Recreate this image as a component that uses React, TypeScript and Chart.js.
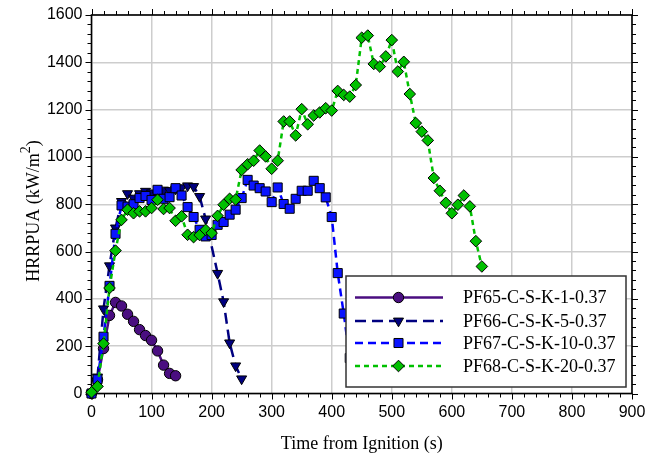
import React, { useEffect, useRef } from 'react';
import { Chart, registerables } from 'chart.js';

Chart.register(...registerables);

const SERIES_NAMES = ['PF65-C-S-K-1-0.37', 'PF66-C-S-K-5-0.37', 'PF67-C-S-K-10-0.37', 'PF68-C-S-K-20-0.37'];

const T65 = [0, 10, 20, 30, 40, 50, 60, 70, 80, 90, 100, 110, 120, 130, 140];
const V65 = [0, 58, 190, 330, 385, 370, 335, 305, 270, 245, 225, 180, 120, 85, 75];

const T66 = [0, 10, 20, 30, 40, 50, 60, 70, 80, 90, 100, 110, 120, 130, 140, 150, 160, 170, 180, 190, 210, 220, 230, 240, 250];
const V66 = [0, 70, 358, 540, 700, 812, 845, 826, 845, 855, 848, 840, 860, 858, 865, 870, 878, 875, 833, 738, 508, 388, 214, 117, 62];

const T67 = [0, 10, 20, 30, 40, 50, 60, 70, 80, 90, 100, 110, 120, 130, 140, 150, 160, 170, 180, 190, 200, 210, 220, 230, 240, 250, 260, 270, 280, 290, 300, 310, 320, 330, 340, 350, 360, 370, 380, 390, 400, 410, 420, 430];
const V67 = [0, 60, 240, 455, 675, 795, 790, 800, 826, 835, 818, 861, 823, 830, 868, 837, 788, 746, 692, 664, 670, 713, 725, 756, 777, 826, 903, 879, 868, 854, 809, 871, 801, 781, 823, 857, 857, 899, 868, 829, 746, 509, 338, 150];

const T68 = [0, 10, 20, 30, 40, 50, 60, 70, 80, 90, 100, 110, 120, 130, 140, 150, 160, 170, 180, 190, 200, 210, 220, 230, 240, 250, 260, 270, 280, 290, 300, 310, 320, 330, 340, 350, 360, 370, 380, 390, 400, 410, 420, 430, 440, 450, 460, 470, 480, 490, 500, 510, 520, 530, 540, 550, 560, 570, 580, 590, 600, 610, 620, 630, 640, 650];
const V68 = [5, 30, 211, 446, 604, 734, 777, 762, 770, 770, 784, 819, 780, 784, 730, 749, 671, 661, 670, 692, 678, 751, 798, 823, 820, 945, 969, 984, 1027, 1002, 950, 984, 1150, 1150, 1091, 1202, 1138, 1175, 1188, 1206, 1196, 1279, 1262, 1255, 1304, 1504, 1513, 1393, 1382, 1425, 1494, 1361, 1402, 1266, 1143, 1107, 1070, 911, 857, 806, 762, 798, 837, 791, 644, 537];

const X_MIN = 0, X_MAX = 900, X_STEP = 100, X_MINOR = 20;
const Y_MIN = 0, Y_MAX = 1600, Y_STEP = 200, Y_MINOR = 40;

const X_TITLE = 'Time from Ignition (s)';
const Y_TITLE_MAIN = 'HRRPUA (kW/m';
const Y_TITLE_SUP = '2';
const Y_TITLE_END = ')';

const SERIF = '"Liberation Serif", "Times New Roman", serif';
const SANS = '"Liberation Sans", Arial, sans-serif';

const STYLES = [
  { color: '#4a0e80', fill: '#4a0e80', point: 'circle', radius: 5.2, rotation: 0, dash: [] as number[] },
  { color: '#000080', fill: '#000080', point: 'triangle', radius: 5.8, rotation: 180, dash: [11, 6] },
  { color: '#0000ff', fill: '#0a14ff', point: 'rect', radius: 6.4, rotation: 0, dash: [8, 5] },
  { color: '#00c000', fill: '#00c000', point: 'rectRot', radius: 5.8, rotation: 0, dash: [5, 4] },
];

const SERIES = [[T65, V65], [T66, V66], [T67, V67], [T68, V68]];

const framePlugin = {
  id: 'frameTicks',
  beforeDatasetsDraw(chart: any) {
    const { ctx, chartArea, scales } = chart;
    const { left, top, right, bottom } = chartArea;
    const x = scales.x, y = scales.y;
    ctx.save();
    ctx.strokeStyle = '#000';
    ctx.lineWidth = 1;
    ctx.beginPath();
    for (let v = X_MIN; v <= X_MAX; v += X_MINOR) {
      const px = Math.round(x.getPixelForValue(v)) + 0.5;
      const len = v % X_STEP === 0 ? 6 : 4;
      ctx.moveTo(px, bottom); ctx.lineTo(px, bottom + len);
      ctx.moveTo(px, top); ctx.lineTo(px, top - len);
    }
    for (let v = Y_MIN; v <= Y_MAX; v += Y_MINOR) {
      const py = Math.round(y.getPixelForValue(v)) + 0.5;
      const len = v % Y_STEP === 0 ? 6 : 4;
      ctx.moveTo(left, py); ctx.lineTo(left - len, py);
      ctx.moveTo(right, py); ctx.lineTo(right + len, py);
    }
    ctx.stroke();
    ctx.lineWidth = 1.6;
    ctx.strokeRect(left, top, right - left, bottom - top);

    // y-axis title with superscript
    ctx.fillStyle = '#000';
    ctx.translate(38.5, 211);
    ctx.rotate(-Math.PI / 2);
    ctx.textBaseline = 'alphabetic';
    ctx.textAlign = 'left';
    const mainFont = '18px ' + SERIF;
    const supFont = '14px ' + SERIF;
    ctx.font = mainFont;
    const w1 = ctx.measureText(Y_TITLE_MAIN).width;
    const w3 = ctx.measureText(Y_TITLE_END).width;
    ctx.font = supFont;
    const w2 = ctx.measureText(Y_TITLE_SUP).width;
    const total = w1 + w2 + w3;
    let cx = -total / 2;
    ctx.font = mainFont;
    ctx.fillText(Y_TITLE_MAIN, cx, 0);
    cx += w1;
    ctx.font = supFont;
    ctx.fillText(Y_TITLE_SUP, cx, -9);
    cx += w2;
    ctx.font = mainFont;
    ctx.fillText(Y_TITLE_END, cx, 0);
    ctx.restore();
  },
  afterDatasetsDraw(chart: any) {
    const { ctx } = chart;
    const bx = 346, by = 276, bw = 280, bh = 111;
    ctx.save();
    ctx.fillStyle = '#fff';
    ctx.fillRect(bx, by, bw, bh);
    ctx.strokeStyle = '#333';
    ctx.lineWidth = 1.5;
    ctx.strokeRect(bx, by, bw, bh);
    const rows = [297.5, 321, 343, 366];
    SERIES_NAMES.forEach((name, i) => {
      const s = STYLES[i];
      const ry = rows[i];
      ctx.strokeStyle = s.color;
      ctx.lineWidth = 2.5;
      ctx.setLineDash(s.dash);
      ctx.beginPath();
      ctx.moveTo(355, ry);
      ctx.lineTo(443, ry);
      ctx.stroke();
      ctx.setLineDash([]);
      ctx.fillStyle = s.fill;
      ctx.strokeStyle = '#000';
      ctx.lineWidth = 1;
      ctx.beginPath();
      const r = s.radius;
      const cx = 398.5;
      if (s.point === 'circle') {
        ctx.arc(cx, ry, r, 0, Math.PI * 2);
      } else if (s.point === 'triangle') {
        ctx.moveTo(cx - r * 0.866, ry - r * 0.5);
        ctx.lineTo(cx + r * 0.866, ry - r * 0.5);
        ctx.lineTo(cx, ry + r);
        ctx.closePath();
      } else if (s.point === 'rect') {
        const h = r * Math.SQRT1_2;
        ctx.rect(cx - h, ry - h, 2 * h, 2 * h);
      } else {
        ctx.moveTo(cx - r, ry); ctx.lineTo(cx, ry - r); ctx.lineTo(cx + r, ry); ctx.lineTo(cx, ry + r);
        ctx.closePath();
      }
      ctx.fill();
      ctx.stroke();
      ctx.fillStyle = '#000';
      ctx.font = '18px ' + SERIF;
      ctx.textAlign = 'left';
      ctx.textBaseline = 'middle';
      ctx.fillText(name, 463, ry + 1);
    });
    ctx.restore();
  },
};

export default function App() {
  const ref = useRef<HTMLCanvasElement | null>(null);
  useEffect(() => {
    if (!ref.current) return;
    const datasets = SERIES.map(([ts, vs], i) => {
      const s = STYLES[i];
      return {
        label: SERIES_NAMES[i],
        data: ts.map((t, k) => ({ x: t, y: vs[k] })),
        borderColor: s.color,
        borderWidth: 2.5,
        borderDash: s.dash,
        backgroundColor: s.fill,
        pointBackgroundColor: s.fill,
        pointBorderColor: '#000',
        pointBorderWidth: 1,
        pointStyle: s.point,
        pointRadius: s.radius,
        pointRotation: s.rotation,
        tension: 0,
        fill: false,
        clip: 10,
        order: 3 - i,
      };
    });
    const chart = new Chart(ref.current, {
      type: 'line',
      data: { datasets },
      options: {
        animation: false,
        responsive: false,
        maintainAspectRatio: false,
        layout: { padding: { left: 0, right: 17, top: 15, bottom: 0 } },
        plugins: { legend: { display: false }, tooltip: { enabled: false } },
        scales: {
          x: {
            type: 'linear',
            min: X_MIN,
            max: X_MAX,
            afterFit: (s: any) => { s.height = 65.5; s.paddingLeft = 0; s.paddingRight = 0; },
            ticks: { stepSize: X_STEP, padding: 9, color: '#000', font: { family: SANS, size: 16 }, callback: (v: any) => String(v) },
            grid: { color: '#cdcdcd', lineWidth: 1.5, drawTicks: false },
            border: { display: false },
            title: { display: true, text: X_TITLE, color: '#000', font: { family: SERIF, size: 18 }, padding: { top: 0, bottom: 4 } },
          },
          y: {
            type: 'linear',
            min: Y_MIN,
            max: Y_MAX,
            afterFit: (s: any) => { s.width = 91.5; s.paddingTop = 0; s.paddingBottom = 0; },
            ticks: { stepSize: Y_STEP, padding: 9, color: '#000', font: { family: SANS, size: 16 }, callback: (v: any) => String(v) },
            grid: { color: '#cdcdcd', lineWidth: 1.5, drawTicks: false },
            border: { display: false },
            title: { display: false },
          },
        },
      },
      plugins: [framePlugin],
    } as any);
    return () => chart.destroy();
  }, []);
  return (
    <div style={{ position: 'fixed', left: 0, top: 0, width: 649, height: 459, background: '#fff' }}>
      <canvas ref={ref} width={649} height={459} />
    </div>
  );
}
